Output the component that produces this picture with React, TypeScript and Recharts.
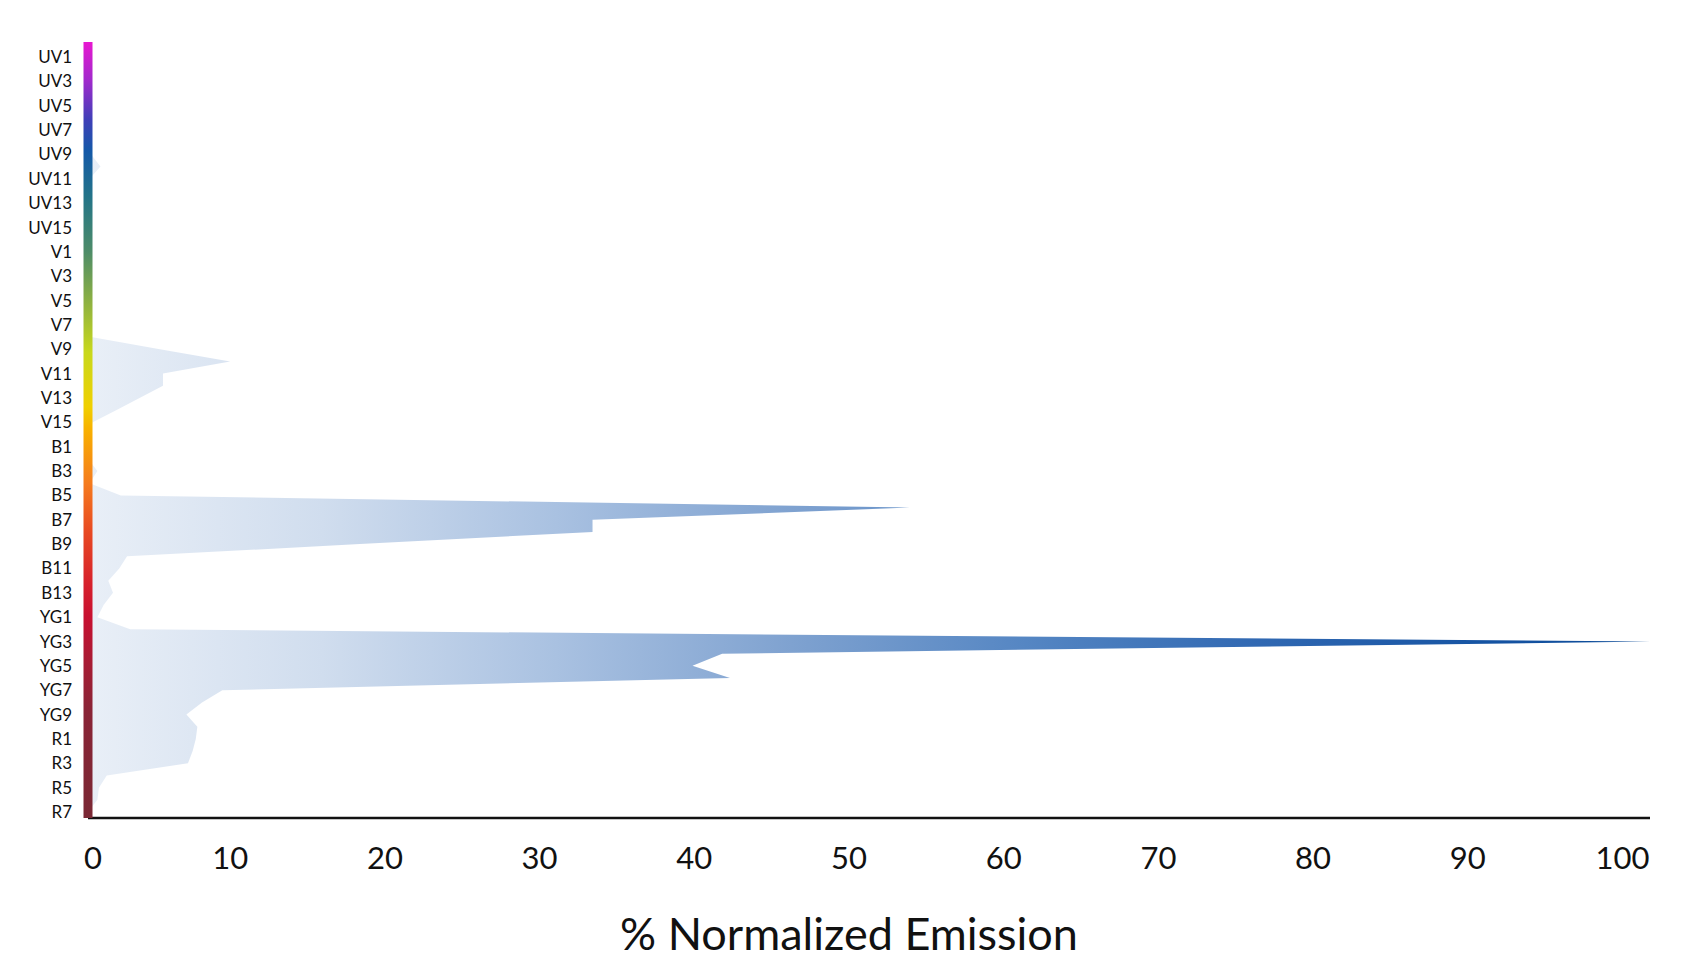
import { AreaChart, Area, XAxis, YAxis } from 'recharts';

const uvNames = ['UV1', 'UV2', 'UV3', 'UV4', 'UV5', 'UV6', 'UV7', 'UV8', 'UV9', 'UV10', 'UV11', 'UV12', 'UV13', 'UV14', 'UV15', 'UV16'];
const vNames = ['V1', 'V2', 'V3', 'V4', 'V5', 'V6', 'V7', 'V8', 'V9', 'V10', 'V11', 'V12', 'V13', 'V14', 'V15', 'V16'];
const bNames = ['B1', 'B2', 'B3', 'B4', 'B5', 'B6', 'B7', 'B8', 'B9', 'B10', 'B11', 'B12', 'B13', 'B14'];
const ygNames = ['YG1', 'YG2', 'YG3', 'YG4', 'YG5', 'YG6', 'YG7', 'YG8', 'YG9', 'YG10'];
const rNames = ['R1', 'R2', 'R3', 'R4', 'R5', 'R6', 'R7'];

// % normalized emission per channel
const uvEmission = [0, 0, 0, 0, 0, 0, 0, 0, 0.2, 0.8, 0.1, 0, 0, 0, 0, 0];
const vEmission = [0, 0, 0, 0, 0, 0, 0, 0.2, 4.6, 9.1, 4.8, 4.8, 3.3, 1.8, 0.3, 0];
const bEmission = [0, 0, 0.6, 0.1, 2.1, 52.6, 32.3, 32.3, 17.4, 2.5, 2.0, 1.3, 1.6, 1.0];
const ygEmission = [0.6, 2.7, 100, 40.6, 38.7, 41.1, 8.6, 7.3, 6.3, 7.0];
const rEmission = [6.9, 6.7, 6.4, 1.2, 0.7, 0.6, 0];

const xTicks = [0, 10, 20, 30, 40, 50, 60, 70, 80, 90, 100];

const channels = [...uvNames, ...vNames, ...bNames, ...ygNames, ...rNames];
const emission = [...uvEmission, ...vEmission, ...bEmission, ...ygEmission, ...rEmission];
const data = channels.map((name, i) => ({ name, emission: emission[i] }));

const WIDTH = 1678;
const HEIGHT = 957;
const MARGIN = { top: 34, right: 36, bottom: 10, left: 0 };
const X_AXIS_HEIGHT = 137;
const PLOT_BOTTOM = HEIGHT - MARGIN.bottom - X_AXIS_HEIGHT;

const spectrum = [
  ['0', '#e817d0'],
  ['0.05', '#a02acc'],
  ['0.1', '#3f3fb8'],
  ['0.14', '#1458a8'],
  ['0.2', '#237488'],
  ['0.27', '#4d8c68'],
  ['0.34', '#92b43e'],
  ['0.4', '#c8d81c'],
  ['0.47', '#f0d000'],
  ['0.5', '#f8b000'],
  ['0.57', '#f57a1e'],
  ['0.63', '#e84a22'],
  ['0.7', '#d6202c'],
  ['0.74', '#c81030'],
  ['0.8', '#a81c34'],
  ['0.86', '#8a2436'],
  ['1', '#7a2834'],
];

const areaStops = [
  ['0', '#e9eff7'],
  ['0.15', '#d0ddee'],
  ['0.3', '#a9c1e1'],
  ['0.45', '#7fa2d0'],
  ['0.6', '#5586c3'],
  ['0.75', '#3068b2'],
  ['0.9', '#1553a2'],
  ['1', '#0b4a96'],
];

// tick labels sit a little left of their grid value in the original
const tickShift = (v: number) => (v === 0 ? 5 : -14 - 0.15 * (v - 10));

const XTick = ({ x, y, payload }: any) => (
  <text
    x={x + tickShift(payload.value)}
    y={y}
    dy="0.71em"
    textAnchor="middle"
    fontSize={31}
    fill="#111"
  >
    {payload.value}
  </text>
);

const AxisTitle = ({ viewBox }: any) => (
  <text
    x={viewBox.x + viewBox.width / 2 - 20}
    y={viewBox.y + viewBox.height - 5}
    textAnchor="middle"
    fontSize={45}
    fill="#111"
  >
    % Normalized Emission
  </text>
);

export default function App() {
  return (
    <div style={{ width: WIDTH, height: HEIGHT, fontFamily: 'Lato, sans-serif', background: '#fff' }}>
      <AreaChart width={WIDTH} height={HEIGHT} data={data} layout="vertical" margin={MARGIN}>
        <defs>
          <linearGradient id="emissionFill" x1="0" y1="0" x2="1" y2="0">
            {areaStops.map(([o, c]) => (
              <stop key={o} offset={o} stopColor={c} />
            ))}
          </linearGradient>
          <linearGradient
            id="spectrumBar"
            gradientUnits="userSpaceOnUse"
            x1="0"
            y1={MARGIN.top}
            x2="0"
            y2={PLOT_BOTTOM}
          >
            {spectrum.map(([o, c]) => (
              <stop key={o} offset={o} stopColor={c} />
            ))}
          </linearGradient>
        </defs>
        <Area
          type="linear"
          dataKey="emission"
          stroke="none"
          fill="url(#emissionFill)"
          fillOpacity={1}
          isAnimationActive={false}
          activeDot={false}
        />
        <XAxis
          type="number"
          domain={[0, 100]}
          ticks={xTicks}
          tickLine={false}
          tickSize={6}
          tickMargin={23}
          height={X_AXIS_HEIGHT}
          axisLine={{ stroke: '#111', strokeWidth: 2.5 }}
          tick={<XTick />}
          label={<AxisTitle />}
        />
        <YAxis
          type="category"
          dataKey="name"
          width={80}
          interval={1}
          tickLine={false}
          tickSize={6}
          tickMargin={10}
          padding={{ top: 15, bottom: 6 }}
          axisLine={{ stroke: 'url(#spectrumBar)', strokeWidth: 9 }}
          tick={{ fill: '#111', fontSize: 17 }}
        />
      </AreaChart>
    </div>
  );
}
